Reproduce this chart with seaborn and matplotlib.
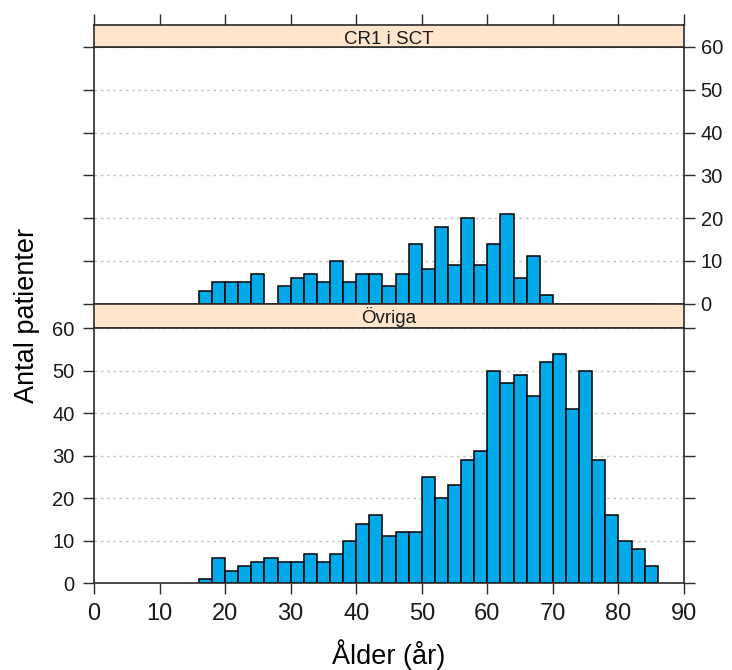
import numpy as np
import matplotlib
matplotlib.use("Agg")
import matplotlib.pyplot as plt
import seaborn as sns

# Data (age bins of 2 years, 16-86)
bin_edges = list(range(16, 88, 2))
top_counts = [3, 5, 5, 5, 7, 0, 4, 6, 7, 5, 10, 5, 7, 7, 4, 7, 14, 8, 18, 9,
              20, 9, 14, 21, 6, 11, 2]
bottom_counts = [1, 6, 3, 4, 5, 6, 5, 5, 7, 5, 7, 10, 14, 16, 11, 12, 12, 25,
                 20, 23, 29, 31, 50, 47, 49, 44, 52, 54, 41, 50, 29, 16, 10, 8, 4]
panel_titles = ["CR1 i SCT", "Övriga"]
x_ticks = list(range(0, 100, 10))
y_ticks = list(range(0, 70, 10))

sns.set_style("white")
plt.rcParams["font.family"] = ["Liberation Sans", "DejaVu Sans"]

bar_color = "#00a9e8"
strip_color = "#ffe5cc"
frame_color = "#2b2b2b"

fig = plt.figure(figsize=(7.32, 6.70), dpi=100)
W, H = 732, 670


def px_axes(x0, y0, x1, y1):
    # pixel box (top-left origin) -> figure axes
    return fig.add_axes([x0 / W, 1 - y1 / H, (x1 - x0) / W, (y1 - y0) / H])


ax_top = px_axes(94, 47, 684, 303.5)
strip_top = px_axes(94, 24.5, 684, 47)
strip_bot = px_axes(94, 303.5, 684, 328)
ax_bot = px_axes(94, 328, 684, 583.3)

mids_top = np.array(bin_edges[:len(top_counts)]) + 1
mids_bot = np.array(bin_edges[:len(bottom_counts)]) + 1

for ax, mids, counts in [(ax_top, mids_top, top_counts), (ax_bot, mids_bot, bottom_counts)]:
    ax.set_axisbelow(True)
    ax.yaxis.grid(True, linestyle=(0, (2, 2.5)), color="#c8c8c8", linewidth=1)
    sns.histplot(x=mids, weights=counts, bins=bin_edges, ax=ax, color=bar_color,
                 edgecolor="black", linewidth=1.1, alpha=1)
    ax.set_xlim(0, 90)
    ax.set_ylim(0, 60)
    ax.set_yticks(y_ticks)
    ax.set_xticks(x_ticks)
    ax.set_xlabel("")
    ax.set_ylabel("")
    for s in ax.spines.values():
        s.set_color(frame_color)
        s.set_linewidth(1.2)
    ax.tick_params(axis="y", left=True, right=True, direction="out", length=8,
                   width=1, color=frame_color, labelsize=14.5, labelcolor="#1a1a1a")

# top panel: y labels on the right, no x ticks
ax_top.tick_params(axis="y", labelleft=False, labelright=True, pad=4)
ax_top.tick_params(axis="x", bottom=False, top=False, labelbottom=False)

# bottom panel: y labels on the left, x ticks + labels at bottom
ax_bot.tick_params(axis="y", labelleft=True, labelright=False, pad=6)
ax_bot.tick_params(axis="x", bottom=True, top=False, direction="out", length=8,
                   width=1, color=frame_color, labelsize=17, pad=6, labelcolor="#1a1a1a")

for strip, title, with_ticks, base in [(strip_top, panel_titles[0], True, 0.14),
                                       (strip_bot, panel_titles[1], False, 0.19)]:
    strip.set_facecolor(strip_color)
    strip.set_xlim(0, 90)
    strip.set_ylim(0, 1)
    strip.set_yticks([])
    strip.set_xticks(x_ticks)
    strip.tick_params(axis="x", bottom=False, labelbottom=False, top=with_ticks,
                      labeltop=False, direction="out", length=8, width=1, color=frame_color)
    for s in strip.spines.values():
        s.set_color(frame_color)
        s.set_linewidth(1.2)
    strip.text(0.5, base, title, transform=strip.transAxes, ha="center", va="baseline",
               fontsize=13.5, color="#1a1a1a")

fig.text(27 / W, 1 - 315 / H, "Antal patienter", rotation=90, ha="center", va="center",
         fontsize=19.5, color="black")
fig.text(389 / W, 1 - 655 / H, "Ålder (år)", ha="center", va="center",
         fontsize=19.5, color="black")

fig.savefig("out.png", dpi=100)
